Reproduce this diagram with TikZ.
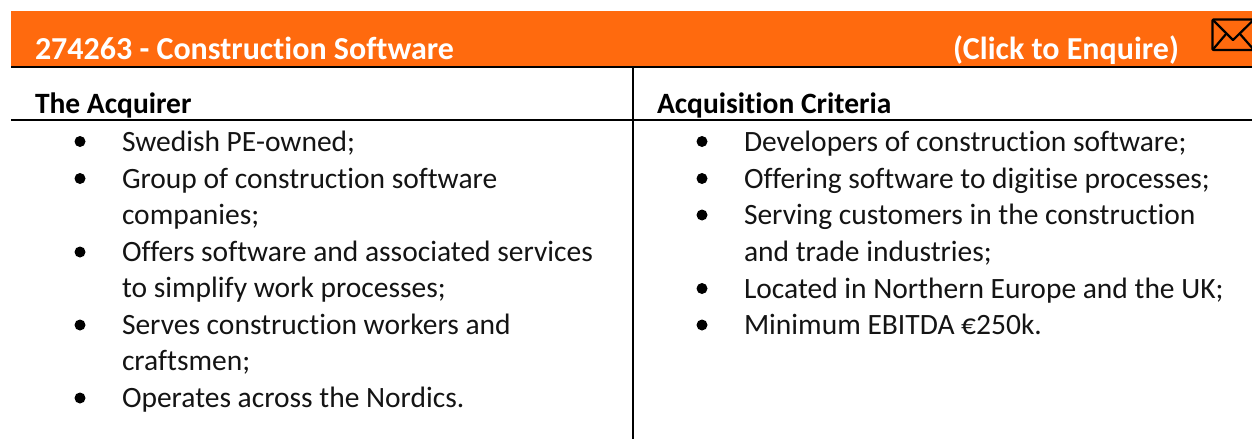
\documentclass[tikz,border=0pt]{standalone}
\usepackage{fontspec}
\setmainfont[Ligatures=NoCommon]{Carlito}
\definecolor{bandorange}{HTML}{FF6A0E}
\tikzset{
  x=1pt,y=-1pt,
  body/.style={anchor=base west,inner sep=0pt,outer sep=0pt,font=\fontsize{29.5}{34}\selectfont,text=black!92},
  head/.style={anchor=base west,inner sep=0pt,outer sep=0pt,font=\fontsize{29.5}{34}\selectfont\bfseries,text=black},
  titletext/.style={anchor=base west,inner sep=0pt,outer sep=0pt,font=\fontsize{32}{36}\selectfont\bfseries,text=white},
  bulletdot/.style={circle,fill=black,inner sep=0pt,minimum size=11pt},
  rule/.style={draw=black,line width=1.6pt},
  rulethick/.style={draw=black,line width=2pt},
}
\begin{document}
\begin{tikzpicture}
\useasboundingbox (0,0) rectangle (1252,439);
\fill[white] (0,0) rectangle (1252,439);
\node[fill=bandorange,anchor=north west,minimum width=1241pt,minimum height=55pt,inner sep=0pt] (band) at (11,11) {};
\coordinate (ruleAa) at (11,67);
\coordinate (ruleAb) at (1252,67);
\coordinate (ruleBa) at (11,120);
\coordinate (ruleBb) at (1252,120);
\coordinate (vtop) at (633,67);
\coordinate (vbot) at (633,439);
\draw[rulethick] (ruleAa) -- (ruleAb);
\draw[rule] (ruleBa) -- (ruleBb);
\draw[rulethick] (vtop) -- (vbot);
\node[titletext] (title) at (35,59) {274263 - Construction Software};
\node[titletext] (enquire) at (953,59) {(Click to Enquire)};
\begin{scope}
\clip (1200,10) rectangle (1252,60);
\draw[line width=2.2pt,rounded corners=1pt,line join=round] (1212.5,19.5) rectangle (1262,50);
\draw[line width=2.2pt,line join=round] (1212.5,19.5) -- (1233,40) -- (1254,19.5);
\draw[line width=2.2pt] (1212.5,50) -- (1226,34);
\draw[line width=2.2pt] (1240,34) -- (1254,50);
\end{scope}
\node[head] (acq) at (35,113) {The Acquirer};
\node[head] (crit) at (657,113) {Acquisition Criteria};
% left column
\node[bulletdot] (la) at (80,141.5) {};
\node[body] (lta) at (122,151) {Swedish PE-owned;};
\node[bulletdot] (lb) at (80,178.5) {};
\node[body] (ltb) at (122,188) {Group of construction software};
\node[body] (ltc) at (122,224.5) {companies;};
\node[bulletdot] (lc) at (80,252) {};
\node[body] (ltd) at (122,261) {Offers software and associated services};
\node[body] (lte) at (122,297.5) {to simplify work processes;};
\node[bulletdot] (ld) at (80,325) {};
\node[body] (ltf) at (122,334) {Serves construction workers and};
\node[body] (ltg) at (122,370.5) {craftsmen;};
\node[bulletdot] (le) at (80,398) {};
\node[body] (lth) at (122,407) {Operates across the Nordics.};
% right column
\node[bulletdot] (ra) at (702,141.5) {};
\node[body] (rta) at (744,151) {Developers of construction software;};
\node[bulletdot] (rb) at (702,178.5) {};
\node[body] (rtb) at (744,188) {Offering software to digitise processes;};
\node[bulletdot] (rc) at (702,215) {};
\node[body] (rtc) at (744,224.5) {Serving customers in the construction};
\node[body] (rtd) at (744,261) {and trade industries;};
\node[bulletdot] (rd) at (702,288.5) {};
\node[body] (rte) at (744,298) {Located in Northern Europe and the UK;};
\node[bulletdot] (re) at (702,325) {};
\node[body] (rtf) at (744,334) {Minimum EBITDA €250k.};
\end{tikzpicture}
\end{document}
